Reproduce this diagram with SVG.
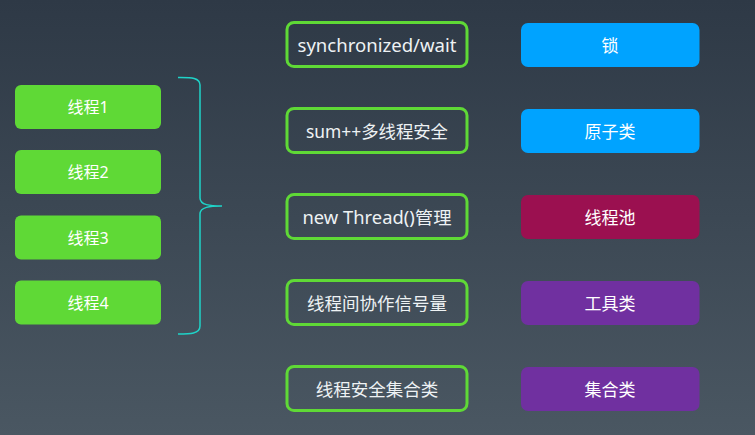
<svg xmlns="http://www.w3.org/2000/svg" width="755" height="435" viewBox="0 0 755 435">
<defs>
<linearGradient id="bg" x1="0" y1="0" x2="0" y2="1">
<stop offset="0" stop-color="#2e3946"/>
<stop offset="1" stop-color="#4a5762"/>
</linearGradient>
<style>
.t{font-family:"Noto Sans","Noto Sans CJK SC",sans-serif;font-size:16px;fill:#ffffff;text-anchor:middle;dominant-baseline:central}
.g{fill:#5fd936}
.o{fill:none;stroke:#5fd936;stroke-width:3}
.b{fill:#00a3ff}
.r{fill:#9b1050}
.p{fill:#7030a0}
.tm{fill:#eef2f4;font-size:17.5px}
.tr{font-size:17px}
</style>
</defs>
<rect width="755" height="435" fill="url(#bg)"/>
<g id="thread1"><rect class="g" x="15" y="85" width="146" height="44" rx="6"/><text class="t" x="88" y="107">线程1</text></g>
<g id="thread2"><rect class="g" x="15" y="150" width="146" height="44" rx="6"/><text class="t" x="88" y="172">线程2</text></g>
<g id="thread3"><rect class="g" x="15" y="215.5" width="146" height="44" rx="6"/><text class="t" x="88" y="237.5">线程3</text></g>
<g id="thread4"><rect class="g" x="15" y="280.5" width="146" height="44" rx="6"/><text class="t" x="88" y="302.5">线程4</text></g>
<g id="connectors">
<path d="M178,77.5 C190,77.5 200,77 200,85 L200,198 C200,205 210,206 222,206 M222,206 C210,206 200,207 200,214 L200,326 C200,334 190,334 178,334" fill="none" stroke="#1fd3c8" stroke-width="1.5"/>
</g>
<g id="m1"><rect class="o" x="287" y="22.5" width="180" height="44" rx="7"/><text class="t tm" x="377" y="44.5" textLength="159" lengthAdjust="spacingAndGlyphs">synchronized/wait</text></g>
<g id="m2"><rect class="o" x="287" y="108.5" width="180" height="44" rx="7"/><text class="t tm" x="377" y="130.5" textLength="142" lengthAdjust="spacingAndGlyphs">sum++多线程安全</text></g>
<g id="m3"><rect class="o" x="287" y="194.5" width="180" height="44" rx="7"/><text class="t tm" x="377" y="216.5" textLength="149" lengthAdjust="spacingAndGlyphs">new Thread()管理</text></g>
<g id="m4"><rect class="o" x="287" y="280.5" width="180" height="44" rx="7"/><text class="t tm" x="377" y="302.5">线程间协作信号量</text></g>
<g id="m5"><rect class="o" x="287" y="366.5" width="180" height="44" rx="7"/><text class="t tm" x="377" y="388.5">线程安全集合类</text></g>
<g id="r1"><rect class="b" x="521" y="23" width="178.5" height="44" rx="7"/><text class="t tr" x="610" y="45">锁</text></g>
<g id="r2"><rect class="b" x="521" y="109" width="178.5" height="44" rx="7"/><text class="t tr" x="610" y="131">原子类</text></g>
<g id="r3"><rect class="r" x="521" y="195" width="178.5" height="44" rx="7"/><text class="t tr" x="610" y="217">线程池</text></g>
<g id="r4"><rect class="p" x="521" y="281" width="178.5" height="44" rx="7"/><text class="t tr" x="610" y="303">工具类</text></g>
<g id="r5"><rect class="p" x="521" y="367" width="178.5" height="44" rx="7"/><text class="t tr" x="610" y="389">集合类</text></g>
</svg>
